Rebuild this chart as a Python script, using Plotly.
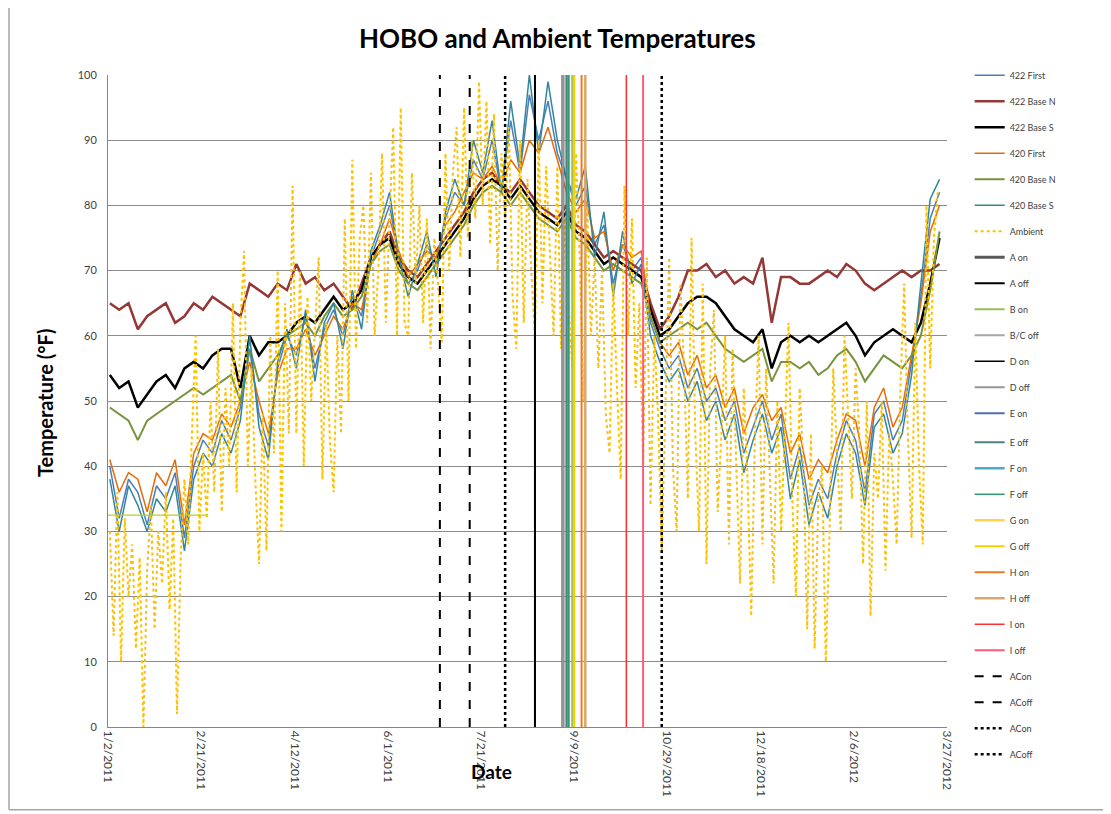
import pandas as pd
import plotly.graph_objects as go

# ---------------- data ----------------
tick_vals = ["2011-01-02", "2011-02-21", "2011-04-12", "2011-06-01", "2011-07-21",
             "2011-09-09", "2011-10-29", "2011-12-18", "2012-02-06", "2012-03-27"]
tick_text = ["1/2/2011", "2/21/2011", "4/12/2011", "6/1/2011", "7/21/2011",
             "9/9/2011", "10/29/2011", "12/18/2011", "2/6/2012", "3/27/2012"]

hobo_dates = pd.date_range("2011-01-03", periods=90, freq="5D")
ambient_dates = pd.date_range("2011-01-03", periods=223, freq="2D")

t422_first = [40,32,38,36,31,37,35,39,29,40, 44,42,47,44,49,58,48,43,55,60,
              57,63,55,61,64,60,66,63,72,76, 80,72,68,70,74,71,78,82,80,87,
              84,90,82,93,85,97,90,96,88,84, 80,83,74,77,68,74,70,72,62,58,
              55,57,52,55,50,52,47,50,42,46, 50,44,48,38,43,34,38,35,42,47,
              44,36,48,50,44,47,56,66,78,82]
t422_base_n = [65,64,65,61,63,64,65,62,63,65, 64,66,65,64,63,68,67,66,68,67,
               71,68,69,67,68,66,64,68,72,74, 76,72,70,69,71,73,75,77,79,82,
               84,85,83,82,84,82,80,79,78,80, 77,76,74,72,73,72,71,70,65,61,
               63,66,70,70,71,69,70,68,69,68, 72,62,69,69,68,68,69,70,69,71,
               70,68,67,68,69,70,69,70,70,71]
t422_base_s = [54,52,53,49,51,53,54,52,55,56, 55,57,58,58,52,60,57,59,59,60,
               62,63,62,64,66,64,65,67,72,74, 75,71,69,68,70,72,74,76,78,81,
               83,84,83,81,83,81,79,78,77,79, 76,75,73,71,72,71,70,69,64,60,
               61,63,65,66,66,65,63,61,60,59, 61,55,59,60,59,60,59,60,61,62,
               60,57,59,60,61,60,59,62,68,75]
t420_first = [41,36,39,38,33,39,37,41,31,42, 45,44,48,46,50,56,50,45,54,58,
              58,61,57,60,63,61,65,64,71,74, 78,73,69,71,73,72,77,79,82,85,
              84,86,83,87,85,90,88,92,87,82, 79,81,75,76,70,74,72,73,63,59,
              57,59,54,57,52,54,49,52,45,49, 51,47,49,42,45,38,41,39,44,48,
              47,40,49,52,46,49,57,65,76,80]
t420_base_n = [49,48,47,44,47,48,49,50,51,52, 51,52,53,54,50,58,53,55,57,60,
               61,62,60,63,65,63,64,66,71,73, 74,70,68,67,69,71,73,75,77,80,
               82,83,82,80,82,80,78,77,76,78, 75,74,72,70,71,70,69,68,63,59,
               60,61,62,61,62,60,58,57,56,57, 58,53,56,56,55,56,54,55,57,58,
               56,53,55,57,56,55,57,60,67,76]
t420_base_s = [38,30,37,34,30,35,33,37,27,38, 42,40,45,42,47,60,46,41,56,61,
               55,64,53,62,65,58,67,61,73,77, 82,72,66,71,76,69,79,84,80,90,
               85,93,82,96,86,100,88,99,90,84, 81,86,72,79,66,76,68,71,60,56,
               53,55,50,53,47,50,44,48,39,44, 48,42,46,35,41,31,36,32,40,45,
               42,34,46,48,42,45,54,68,81,84]
ambient = [30,14,36,10,32,20,28,12,26,0, 24,34,15,30,22,36,18,32,2,26,
           38,28,45,60,30,42,32,50,36,58, 33,52,40,65,36,62,73,40,55,38,
           25,48,27,60,42,70,30,65,45,83, 45,70,40,66,50,60,72,38,62,44,
           36,60,45,78,50,87,58,75,80,62, 85,60,70,88,62,78,92,60,95,62,
           60,85,68,80,62,78,58,75,68,59, 88,70,85,92,72,95,75,90,78,99,
           80,96,74,94,70,88,78,92,66,58, 90,62,84,70,60,90,65,86,72,60,
           86,58,78,65,55,88,72,50,80,60, 72,55,70,48,42,68,52,38,83,60,
           78,52,65,40,72,34,60,48,27,50, 72,40,30,68,55,35,75,45,30,68,
           25,55,64,33,45,60,28,58,40,22, 52,38,17,45,60,28,55,40,22,50,
           30,45,62,35,20,52,40,15,45,12, 35,40,10,30,55,42,30,60,48,35,
           55,45,25,50,17,42,35,50,24,45, 38,28,52,68,45,29,62,40,28,80,
           55,75,82]

freeze_dates = ["2011-01-02", "2011-02-24"]
freeze_vals = [32.5, 32.5]

event_names = ["A on", "A off", "B on", "B/C off", "D on", "D off", "E on", "E off",
               "F on", "F off", "G on", "G off", "H on", "H off", "I on", "I off",
               "ACon", "ACoff", "ACon", "ACoff"]
event_dates = ["2011-09-03", "2011-08-19", "2011-09-08", "2011-09-03", "2011-08-19",
               "2011-09-03", "2011-09-05", "2011-09-05", "2011-09-06", "2011-09-06",
               "2011-09-09", "2011-09-09", "2011-09-13", "2011-09-15", "2011-10-07",
               "2011-10-16", "2011-06-29", "2011-07-15", "2011-08-03", "2011-10-26"]
event_range = [0, 100]

# ---------------- styles ----------------
series = [
    ("422 First", t422_first, "#4A7EBB", 1.5),
    ("422 Base N", t422_base_n, "#953735", 2.5),
    ("422 Base S", t422_base_s, "#000000", 2.5),
    ("420 First", t420_first, "#E46C0A", 1.5),
    ("420 Base N", t420_base_n, "#77933C", 2),
    ("420 Base S", t420_base_s, "#31859C", 1.5),
]
event_styles = [
    ("#595959", 3, "solid"), ("#000000", 2, "solid"), ("#9BBB59", 2, "solid"),
    ("#A6A6A6", 2, "solid"), ("#000000", 1.5, "solid"), ("#969696", 2, "solid"),
    ("#4F6FA8", 2, "solid"), ("#4F7F7F", 2, "solid"), ("#4BACC6", 2.5, "solid"),
    ("#2E9E6E", 1.5, "solid"), ("#FFD34D", 2.5, "solid"), ("#F2D300", 2, "solid"),
    ("#F07820", 2, "solid"), ("#D9A86A", 2.5, "solid"), ("#FF3030", 1.5, "solid"),
    ("#FF5C7A", 2, "solid"), ("#000000", 2, "dash"), ("#000000", 2, "dash"),
    ("#000000", 2.5, "dot"), ("#000000", 2.5, "dot"),
]

fig = go.Figure()
gi = 0
for name, vals, col, w in series:
    fig.add_trace(go.Scatter(x=hobo_dates, y=vals, mode="lines", name=name,
                             line=dict(color=col, width=w), legendgroup=f"g{gi}",
                             legend="legend"))
    gi += 1

fig.add_trace(go.Scatter(x=ambient_dates, y=ambient, mode="lines", name="Ambient",
                         line=dict(color="#FFC000", width=2, dash="dot"),
                         legendgroup=f"g{gi}", legend="legend"))
gi += 1
fig.add_trace(go.Scatter(x=freeze_dates, y=freeze_vals, mode="lines", name="32°F",
                         line=dict(color="#B8D020", width=1.2), showlegend=False))

for j, (name, d, (col, w, dash)) in enumerate(zip(event_names, event_dates, event_styles)):
    fig.add_trace(go.Scatter(x=[d, d], y=event_range, mode="lines", name=name,
                             line=dict(color=col, width=w, dash=dash),
                             legendgroup=f"g{gi}",
                             legend="legend" if j < 7 else "legend2"))
    gi += 1

FONT = "Lato, 'Liberation Sans', sans-serif"
leg_common = dict(xanchor="left", yanchor="top", font=dict(size=9, color="#404040"),
                  tracegroupgap=7, bgcolor="rgba(0,0,0,0)")
fig.update_layout(
    width=1103, height=806,
    margin=dict(l=100, r=164, t=67, b=87),
    paper_bgcolor="white", plot_bgcolor="white",
    font=dict(family=FONT, color="#404040"),
    showlegend=True,
    legend=dict(x=1.027, y=1.022, **leg_common),
    legend2=dict(x=1.027, y=0.459, **leg_common),
    xaxis=dict(type="date", range=["2011-01-02", "2012-03-27"],
               tickvals=tick_vals, ticktext=tick_text, tickangle=90,
               tickfont=dict(size=12, color="#404040"), showgrid=False,
               showline=True, linecolor="#868686", linewidth=1, ticks="",
               zeroline=False),
    yaxis=dict(range=[0, 100], tick0=0, dtick=10, showgrid=True,
               gridcolor="#8C8C8C", gridwidth=1, showline=True,
               linecolor="#868686", linewidth=1, ticks="", ticklabelstandoff=8,
               tickfont=dict(size=11, color="#404040"), zeroline=False),
    annotations=[
        dict(text="<b>HOBO and Ambient Temperatures</b>", xref="paper", yref="paper",
             x=0.536, y=1.057, xanchor="center", yanchor="middle", showarrow=False,
             font=dict(size=26, color="#000000", family=FONT)),
        dict(text="<b>Temperature (°F)</b>", xref="paper", yref="paper",
             x=-0.075, y=0.497, textangle=-90, xanchor="center", yanchor="middle",
             showarrow=False, font=dict(size=20, color="#000000", family=FONT)),
        dict(text="<b>Date</b>", xref="paper", yref="paper",
             x=0.457, y=-0.069, xanchor="center", yanchor="middle",
             showarrow=False, font=dict(size=19, color="#000000", family=FONT)),
    ],
    shapes=[
        dict(type="line", xref="paper", yref="paper", x0=-0.118, x1=-0.118,
             y0=-0.127, y1=1.2, line=dict(color="#A6A6A6", width=1.5)),
        dict(type="line", xref="paper", yref="paper", x0=-0.118, x1=1.2,
             y0=-0.127, y1=-0.127, line=dict(color="#A6A6A6", width=1.5)),
    ],
)

fig.write_html("out.html")
